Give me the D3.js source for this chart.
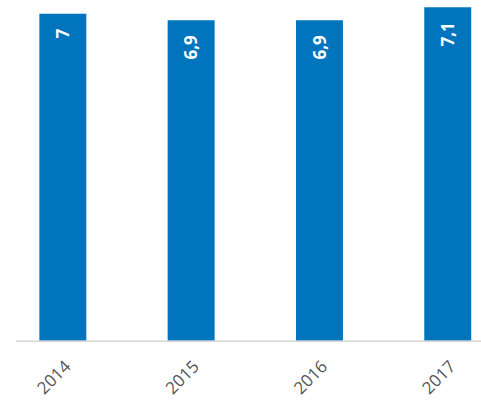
<!DOCTYPE html>
<html>
<head>
<meta charset="utf-8">
<script src="https://cdn.jsdelivr.net/npm/d3@7"></script>
<style>
  html,body{margin:0;padding:0;background:#fff;}
  svg{display:block;}
</style>
</head>
<body>
<div id="chart"></div>
<script>
var years=['2014','2015','2016','2017'];
var values=[7,6.9,6.9,7.1];
var labels=['7','6,9','6,9','7,1'];

var W=481,H=402,
	baseY=340.7;

var svg=d3.select('#chart').append('svg')
	.attr('width',W).attr('height',H)
	.attr('font-family','"Open Sans", sans-serif');

// band scale runs past the right edge, the last bar sits near the border
var x=d3.scaleBand().domain(years)
	.range([-1.3,511.9])
	.paddingInner(0.634)
	.paddingOuter(0.317);

// value axis does not start at zero
var y=d3.scaleLinear().domain([1.97,7.1]).range([baseY,7.25]);

var gBars=svg.append('g');
gBars.selectAll('rect').data(values).enter().append('rect')
	.attr('x',function(d,i){return x(years[i]);})
	.attr('y',function(d){return y(d);})
	.attr('width',x.bandwidth())
	.attr('height',function(d){return baseY-y(d);})
	.attr('fill','#0075be');

// axis line
svg.append('line').attr('x1',16).attr('x2',W)
	.attr('y1',baseY+0.5).attr('y2',baseY+0.5)
	.attr('stroke','#d6d6d6').attr('stroke-width',1.5);

// value labels, rotated inside the bars
gBars.selectAll('text').data(values).enter().append('text')
	.attr('transform',function(d,i){
		var cx=x(years[i])+x.bandwidth()/2;
		return 'translate('+cx+','+(y(d)+15)+') rotate(-90)';
	})
	.attr('dy','0.36em')
	.attr('text-anchor','end')
	.attr('fill','#fff')
	.attr('font-size',17)
	.attr('font-weight','bold')
	.text(function(d,i){return labels[i];});

// category labels
var xAxis=d3.axisBottom(x).tickSize(0).tickPadding(0);
var gX=svg.append('g').attr('transform','translate(0,'+baseY+')').call(xAxis);
gX.select('.domain').remove();
gX.selectAll('text')
	.attr('font-family','"Open Sans", sans-serif')
	.attr('font-size',17)
	.attr('fill','#555')
	.attr('text-anchor','end')
	.attr('dy',null).attr('y',null)
	.attr('transform','translate(9,27) rotate(-45)');
</script>
</body>
</html>
